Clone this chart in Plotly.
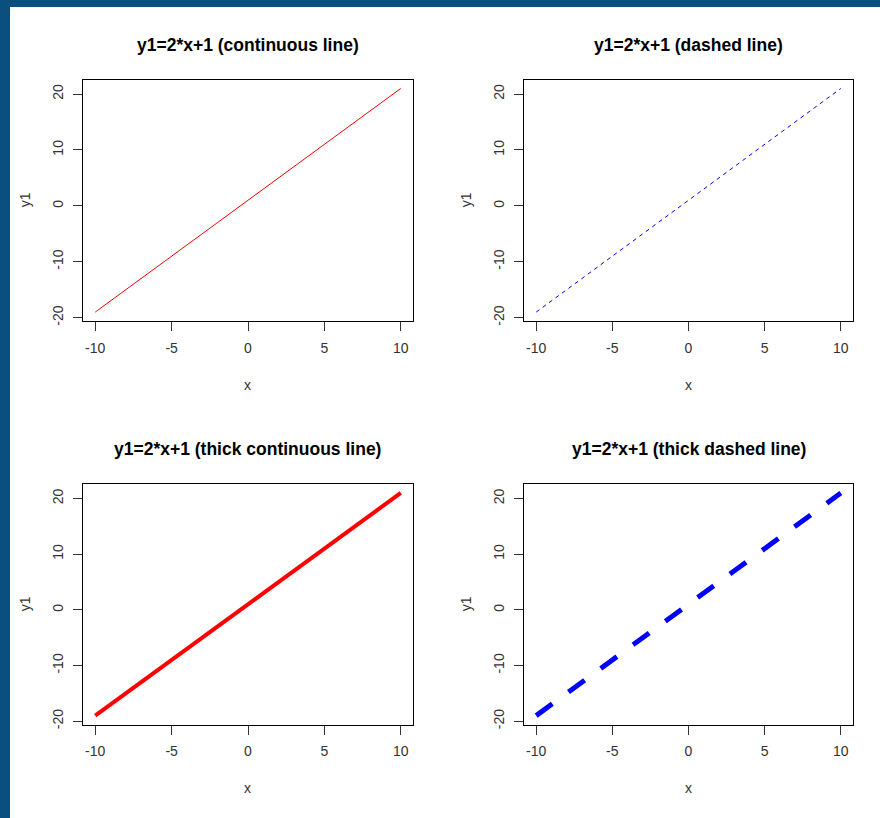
import plotly.graph_objects as go

x_vals = [-10, -9, -8, -7, -6, -5, -4, -3, -2, -1, 0, 1, 2, 3, 4, 5, 6, 7, 8, 9, 10]
y1_vals = [-19, -17, -15, -13, -11, -9, -7, -5, -3, -1, 1, 3, 5, 7, 9, 11, 13, 15, 17, 19, 21]

titles = [
    "y1=2*x+1 (continuous line)",
    "y1=2*x+1 (dashed line)",
    "y1=2*x+1 (thick continuous line)",
    "y1=2*x+1 (thick dashed line)",
]
x_ticks = [-10, -5, 0, 5, 10]
x_tick_text = ["-10", "-5", "0", "5", "10"]
y_ticks = [-20, -10, 0, 10, 20]
y_tick_text = ["-20", "-10", "0", "10", "20"]
x_label = "x"
y_label = "y1"

W, H = 880, 818
FONT = "Liberation Sans, Arial, sans-serif"
BORDER = "#0a4f7e"

# panel boxes in pixels (left, right, top, bottom)
boxes = [
    (83, 413, 80, 323),
    (524, 853, 80, 323),
    (83, 413, 487, 729),
    (524, 853, 487, 729),
]
styles = [
    dict(color="#ff0000", width=1, dash="solid"),
    dict(color="#0000ff", width=1, dash="4px,4px"),
    dict(color="#ff0000", width=4, dash="solid"),
    dict(color="#0000ff", width=5, dash="20px,20px"),
]

fig = go.Figure()
annotations = []
for i, (box, st, title) in enumerate(zip(boxes, styles, titles)):
    l, r, t, b = box
    xa = "xaxis" if i == 0 else f"xaxis{i+1}"
    ya = "yaxis" if i == 0 else f"yaxis{i+1}"
    xr = "x" if i == 0 else f"x{i+1}"
    yr = "y" if i == 0 else f"y{i+1}"
    fig.add_trace(go.Scatter(x=x_vals, y=y1_vals, mode="lines", line=st,
                             xaxis=xr, yaxis=yr, showlegend=False, hoverinfo="skip"))
    common = dict(showline=True, mirror=True, linecolor="black", linewidth=1,
                  ticks="outside", ticklen=9, tickcolor="#333", tickwidth=1,
                  showgrid=False, zeroline=False,
                  tickfont=dict(family=FONT, size=14, color="#333"))
    fig.layout[xa] = dict(domain=[l / W, r / W], anchor=yr, range=[-10.8, 10.8],
                          tickmode="array", tickvals=x_ticks, ticktext=x_tick_text,
                          ticklabelstandoff=5, **common)
    fig.layout[ya] = dict(domain=[1 - b / H, 1 - t / H], anchor=xr, range=[-20.6, 22.6],
                          tickmode="array", tickvals=y_ticks, ticktext=y_tick_text,
                          tickangle=-90, ticklabelstandoff=4, **common)
    cx = (l + r) / 2
    cy = (t + b) / 2
    annotations.append(dict(text=f"<b>{title}</b>", x=cx / W, y=1 - (t - 35) / H,
                            xref="paper", yref="paper", showarrow=False,
                            xanchor="center", yanchor="middle",
                            font=dict(family=FONT, size=17.5, color="black")))
    annotations.append(dict(text=x_label, x=cx / W, y=1 - (b + 64) / H,
                            xref="paper", yref="paper", showarrow=False,
                            xanchor="center", yanchor="middle",
                            font=dict(family=FONT, size=14, color="#333")))
    annotations.append(dict(text=y_label, x=(l - 58) / W, y=1 - cy / H,
                            xref="paper", yref="paper", showarrow=False, textangle=-90,
                            xanchor="center", yanchor="middle",
                            font=dict(family=FONT, size=14, color="#333")))

fig.update_layout(
    width=W, height=H,
    margin=dict(l=0, r=0, t=0, b=0),
    paper_bgcolor="white",
    plot_bgcolor="white",
    annotations=annotations,
    shapes=[
        dict(type="rect", xref="paper", yref="paper", x0=-0.01, x1=10 / W, y0=-0.01, y1=1.01,
             fillcolor=BORDER, line=dict(width=0), layer="below"),
        dict(type="rect", xref="paper", yref="paper", x0=-0.01, x1=1.01, y0=1 - 7 / H, y1=1.01,
             fillcolor=BORDER, line=dict(width=0), layer="below"),
    ],
)

fig.write_html("out.html", config={"displayModeBar": False},
               post_script="document.body.style.margin='0';")
